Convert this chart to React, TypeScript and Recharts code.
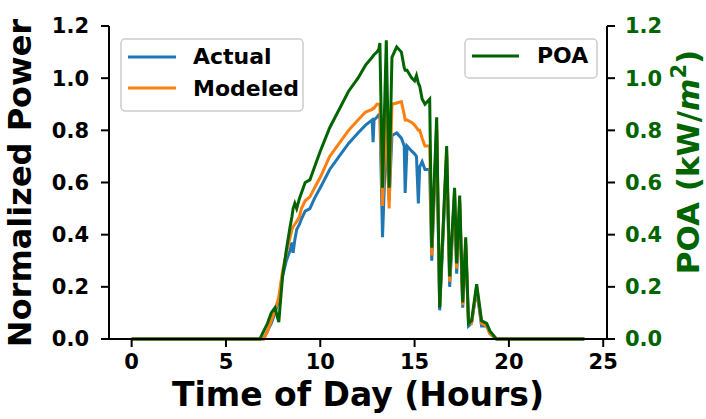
import { LineChart, Line, XAxis, YAxis } from 'recharts';

// time of day (hours) and the three traces
const HOURS = [
  0, 6.6, 6.8, 7.0, 7.2, 7.4, 7.6, 7.8, 8.0, 8.2, 8.4, 8.5, 8.56, 8.65, 8.75,
  8.9, 9.0, 9.2, 9.45, 9.7, 10.0, 10.5, 11.0, 11.5, 12.0, 12.4, 12.75, 12.8,
  12.85, 13.0, 13.1, 13.16, 13.3, 13.5, 13.65, 13.8, 14.05, 14.3, 14.45, 14.5,
  14.6, 14.85, 15.0, 15.1, 15.2, 15.27, 15.4, 15.55, 15.8, 15.91, 16.17, 16.33,
  16.7, 16.86, 17.12, 17.23, 17.39, 17.55, 17.71, 17.86, 18.02, 18.29, 18.55,
  18.82, 19.0, 19.34, 19.6, 24,
];

const ACTUAL = [
  0, 0, 0, 0, 0.03, 0.06, 0.1, 0.15, 0.24, 0.3, 0.34, 0.37, 0.33, 0.38, 0.42,
  0.44, 0.46, 0.49, 0.5, 0.54, 0.58, 0.65, 0.7, 0.75, 0.79, 0.82, 0.84, 0.755,
  0.84, 0.85, 0.86, 0.86, 0.39, 0.8, 0.53, 0.78, 0.79, 0.77, 0.74, 0.56, 0.74,
  0.72, 0.71, 0.7, 0.52, 0.66, 0.68, 0.65, 0.65, 0.3, 0.8, 0.11, 0.7, 0.2,
  0.55, 0.25, 0.52, 0.12, 0.36, 0.05, 0.06, 0.19, 0.05, 0.05, 0.02, 0, 0, 0,
];

const MODELED = [
  0, 0, 0, 0, 0.03, 0.07, 0.11, 0.16, 0.26, 0.33, 0.39, 0.42, 0.43, 0.44, 0.45,
  0.47, 0.5, 0.53, 0.545, 0.58, 0.62, 0.7, 0.75, 0.8, 0.84, 0.87, 0.88, 0.885,
  0.885, 0.9, 0.9, 0.9, 0.51, 0.9, 0.5, 0.9, 0.905, 0.91, 0.86, 0.84, 0.84,
  0.83, 0.82, 0.81, 0.8, 0.8, 0.77, 0.74, 0.74, 0.32, 0.82, 0.13, 0.72, 0.22,
  0.57, 0.27, 0.53, 0.13, 0.37, 0.06, 0.06, 0.2, 0.06, 0.05, 0.02, 0, 0, 0,
];

const POA = [
  0, 0, 0, 0.03, 0.06, 0.1, 0.12, 0.065, 0.24, 0.34, 0.43, 0.47, 0.5, 0.52,
  0.5, 0.54, 0.56, 0.6, 0.61, 0.66, 0.72, 0.81, 0.88, 0.95, 1.0, 1.05, 1.08,
  1.085, 1.09, 1.1, 1.11, 1.135, 0.58, 1.145, 0.58, 1.08, 1.12, 1.1, 1.04,
  1.03, 1.03, 1.0, 0.99, 1.01, 0.98, 0.97, 0.92, 0.9, 0.92, 0.35, 0.85, 0.12,
  0.74, 0.24, 0.58, 0.29, 0.55, 0.14, 0.39, 0.06, 0.07, 0.21, 0.07, 0.06, 0.03,
  0, 0, 0,
];

const X_TICKS = [0, 5, 10, 15, 20, 25];
const Y_TICKS = [0, 0.2, 0.4, 0.6, 0.8, 1.0, 1.2];

const BLUE = '#1f77b4';
const ORANGE = '#ff7f0e';
const GREEN = '#006400';
const FONT = '"DejaVu Sans", sans-serif';

const W = 706;
const H = 419;

export default function App() {
  const data = HOURS.map((h, i) => ({
    h,
    actual: ACTUAL[i],
    modeled: MODELED[i],
    poa: POA[i],
  }));

  const tickStyle = { fontSize: 21, fontWeight: 700, fontFamily: FONT, fill: '#000' };
  const axisLine = { stroke: '#000', strokeWidth: 2 };

  return (
    <div style={{ position: 'absolute', left: 0, top: 0, width: W, height: H, background: '#fff' }}>
      <LineChart
        width={W}
        height={H}
        data={data}
        margin={{ top: 26, right: 0, bottom: 0, left: 0 }}
      >
        <XAxis
          xAxisId="x"
          dataKey="h"
          type="number"
          domain={[-1.2, 25.2]}
          ticks={X_TICKS}
          allowDataOverflow
          height={80}
          tickSize={8}
          tickMargin={7}
          tick={tickStyle}
          axisLine={axisLine}
          tickLine={axisLine}
        />
        <XAxis
          xAxisId="top"
          orientation="top"
          type="number"
          domain={[-1.2, 25.2]}
          height={0}
          tick={false}
          tickLine={false}
          axisLine={axisLine}
        />
        <YAxis
          yAxisId="left"
          domain={[0, 1.2]}
          ticks={Y_TICKS}
          width={109}
          tickSize={8}
          tickMargin={12}
          tick={tickStyle}
          tickFormatter={(v: number) => v.toFixed(1)}
          axisLine={axisLine}
          tickLine={axisLine}
        />
        <YAxis
          yAxisId="right"
          orientation="right"
          domain={[0, 1.2]}
          ticks={Y_TICKS}
          width={99}
          tickSize={8}
          tickMargin={10}
          tick={{ ...tickStyle, fill: GREEN }}
          tickFormatter={(v: number) => v.toFixed(1)}
          axisLine={axisLine}
          tickLine={axisLine}
        />
        <Line
          xAxisId="x"
          yAxisId="left"
          dataKey="actual"
          stroke={BLUE}
          strokeWidth={3}
          dot={false}
          type="linear"
          isAnimationActive={false}
        />
        <Line
          xAxisId="x"
          yAxisId="left"
          dataKey="modeled"
          stroke={ORANGE}
          strokeWidth={3}
          dot={false}
          type="linear"
          isAnimationActive={false}
        />
        <Line
          xAxisId="x"
          yAxisId="right"
          dataKey="poa"
          stroke={GREEN}
          strokeWidth={3}
          dot={false}
          type="linear"
          isAnimationActive={false}
        />
      </LineChart>

      {/* axis titles and the two legend boxes */}
      <svg
        width={W}
        height={H}
        style={{ position: 'absolute', left: 0, top: 0, pointerEvents: 'none' }}
        fontFamily={FONT}
        fontWeight={700}
      >
        <text x={358} y={406} fontSize={33} textAnchor="middle" fill="#000">
          Time of Day (Hours)
        </text>
        <text
          x={31}
          y={183}
          fontSize={32}
          textAnchor="middle"
          fill="#000"
          transform="rotate(-90 31 183)"
        >
          Normalized Power
        </text>
        <text
          x={699}
          y={162}
          fontSize={31}
          textAnchor="middle"
          fill={GREEN}
          transform="rotate(-90 699 162)"
        >
          POA (kW/<tspan fontStyle="italic">m</tspan>
          <tspan fontSize={21} dy={-13}>2</tspan>
          <tspan dy={13}>)</tspan>
        </text>

        <rect x={121} y={39} width={182} height={72} rx={4} fill="#fff" fillOpacity={0.8} stroke="#cccccc" strokeWidth={1.5} />
        <line x1={128} y1={57} x2={176} y2={57} stroke={BLUE} strokeWidth={3} />
        <text x={193} y={64} fontSize={22} fill="#000">Actual</text>
        <line x1={128} y1={88} x2={176} y2={88} stroke={ORANGE} strokeWidth={3} />
        <text x={193} y={96} fontSize={22} fill="#000">Modeled</text>

        <rect x={465} y={39} width={132} height={39} rx={4} fill="#fff" fillOpacity={0.8} stroke="#cccccc" strokeWidth={1.5} />
        <line x1={472} y1={56} x2={519} y2={56} stroke={GREEN} strokeWidth={3} />
        <text x={537} y={63} fontSize={22} fill="#000">POA</text>
      </svg>
    </div>
  );
}
